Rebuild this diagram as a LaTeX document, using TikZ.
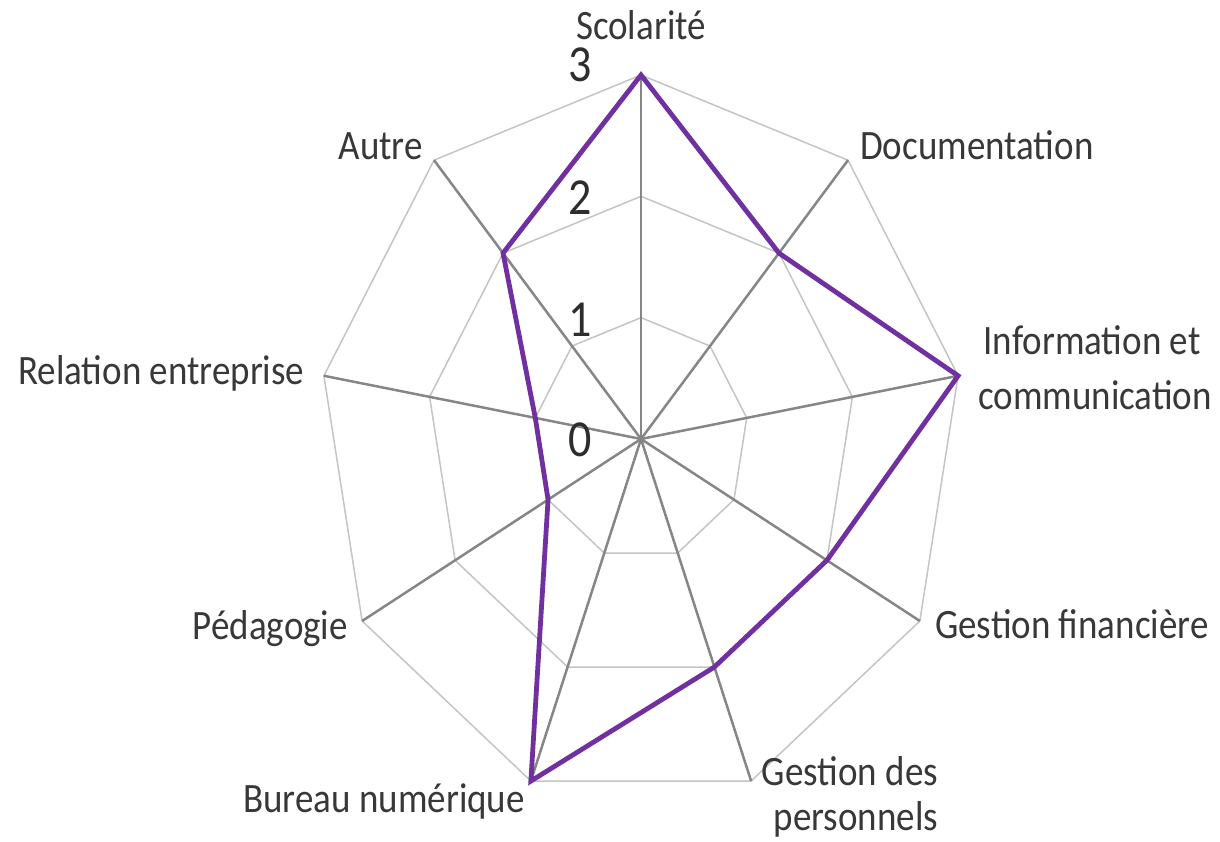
\documentclass[tikz,border=0pt]{standalone}
\usepackage{fontspec}
\setmainfont{Carlito}
\definecolor{txt}{HTML}{383838}
\definecolor{spokec}{HTML}{868686}
\definecolor{gridc}{HTML}{C4C4C4}
\definecolor{seriec}{HTML}{7030A0}
\begin{document}
\begin{tikzpicture}[x=1pt,y=1pt,
  lab/.style={font=\fontsize{37}{44}\selectfont, text=txt, yscale=1.13, inner sep=0pt},
  ticklab/.style={font=\fontsize{46}{50}\selectfont, text=txt!80!black, yscale=1.13, inner sep=0pt, anchor=base},
  gridline/.style={draw=gridc, line width=1.5pt, line join=miter},
  spokeline/.style={draw=spokec, line width=2.5pt},
  serieline/.style={draw=seriec, line width=4.8pt, line join=miter}]
\useasboundingbox (0,0) rectangle (1220,842);
\begin{scope}[shift={(641,403)}]
  % grid polygons
  \foreach \k in {1,2,3}{
    \draw[gridline] ({\k*107.33*cos(90)},{\k*121.33*sin(90)})
      \foreach \a in {50,10,-30,-70,-110,-150,170,130}{ -- ({\k*107.33*cos(\a)},{\k*121.33*sin(\a)}) } -- cycle;
  }
  % spokes
  \coordinate (O) at (0,0);
  \foreach \a [count=\i] in {90,50,10,-30,-70,-110,-150,170,130}{
    \coordinate (E\i) at ({322*cos(\a)},{364*sin(\a)});
    \draw[spokeline] (O) -- (E\i);
  }
  % series
  \foreach \a/\v [count=\i] in {90/3,50/2,10/3,-30/2,-70/2,-110/3,-150/1,170/1,130/2}{
    \coordinate (P\i) at ({\v*107.33*cos(\a)},{\v*121.33*sin(\a)});
  }
  \draw[serieline] (P1) -- (P2) -- (P3) -- (P4) -- (P5) -- (P6) -- (P7) -- (P8) -- (P9) -- cycle;
\end{scope}
% tick labels
\node[ticklab] (t3) at (580,760) {3};
\node[ticklab] (t2) at (580,627) {2};
\node[ticklab] (t1) at (580,505) {1};
\node[ticklab] (t0) at (580,385) {0};
% category labels
\node[lab, anchor=base] (scol) at (641,802) {Scolarité};
\node[lab, anchor=base west] (doc) at (860,682) {Documentation};
\node[lab, anchor=base] (infoA) at (1092,487) {Information et};
\node[lab, anchor=base] (infoB) at (1095,432) {communication};
\node[lab, anchor=base west] (fin) at (935,203) {Gestion financière};
\node[lab, anchor=base] (persA) at (850,56) {Gestion des};
\node[lab, anchor=base] (persB) at (856,11) {personnels};
\node[lab, anchor=base east] (bur) at (525,29) {Bureau numérique};
\node[lab, anchor=base east] (ped) at (348,202) {Pédagogie};
\node[lab, anchor=base west] (rel) at (18,457) {Relation entreprise};
\node[lab, anchor=base east] (aut) at (423,682) {Autre};
\end{tikzpicture}
\end{document}
